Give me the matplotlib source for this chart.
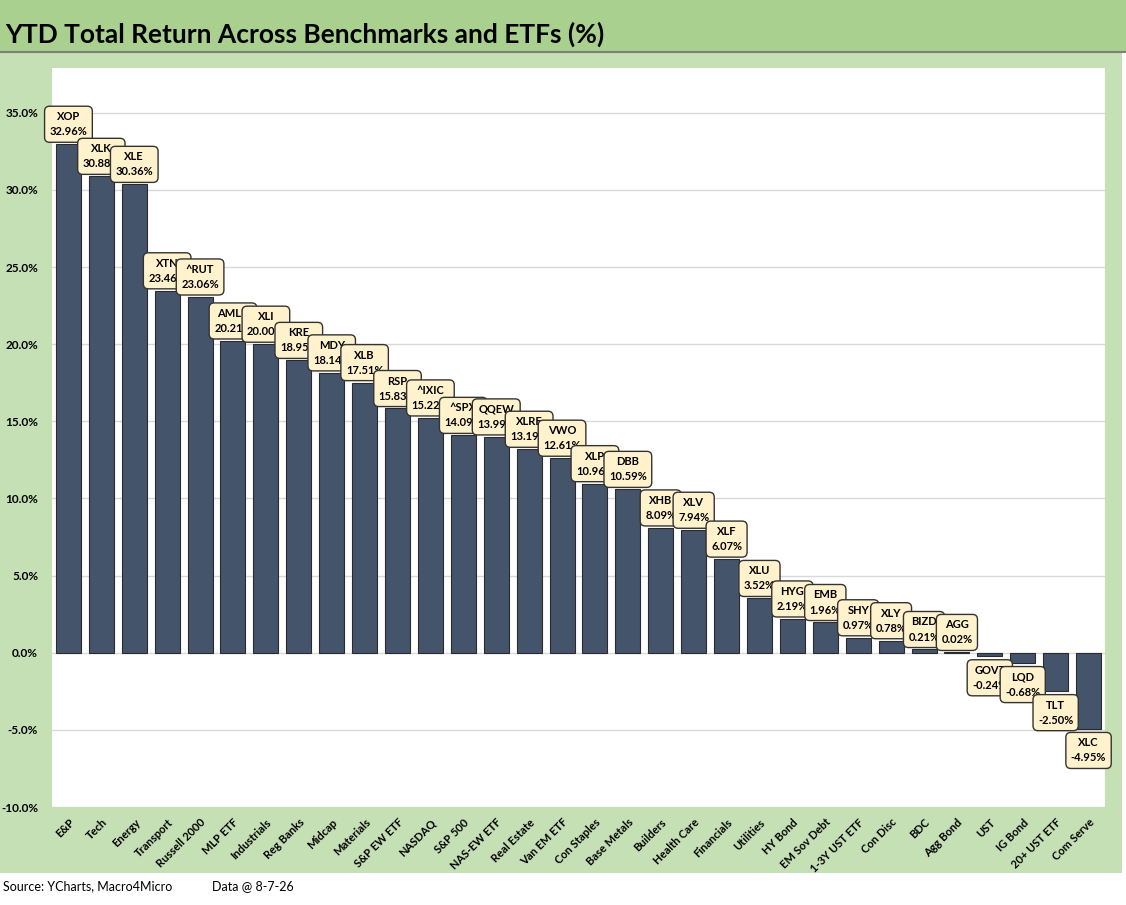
import matplotlib
matplotlib.use("Agg")
import matplotlib.pyplot as plt
from matplotlib.patches import Rectangle
from matplotlib.ticker import FuncFormatter

plt.rcParams['font.family'] = ['Lato', 'DejaVu Sans']

# categories, tickers and YTD total returns (%)
categories = ['E&P', 'Tech', 'Energy', 'Transport', 'Russell 2000', 'MLP ETF', 'Industrials',
              'Reg Banks', 'Midcap', 'Materials', 'S&P EW ETF', 'NASDAQ', 'S&P 500', 'NAS-EW ETF',
              'Real Estate', 'Van EM ETF', 'Con Staples', 'Base Metals', 'Builders', 'Health Care',
              'Financials', 'Utilities', 'HY Bond', 'EM Sov Debt', '1-3Y UST ETF', 'Con Disc', 'BDC',
              'Agg Bond', 'UST', 'IG Bond', '20+ UST ETF', 'Com Serve']
tickers = ['XOP', 'XLK', 'XLE', 'XTN', '^RUT', 'AMLP', 'XLI', 'KRE', 'MDY', 'XLB', 'RSP', '^IXIC',
           '^SPX', 'QQEW', 'XLRE', 'VWO', 'XLP', 'DBB', 'XHB', 'XLV', 'XLF', 'XLU', 'HYG', 'EMB',
           'SHY', 'XLY', 'BIZD', 'AGG', 'GOVT', 'LQD', 'TLT', 'XLC']
returns = [32.96, 30.88, 30.36, 23.46, 23.06, 20.21, 20.00, 18.95, 18.14, 17.51, 15.83, 15.22,
           14.09, 13.99, 13.19, 12.61, 10.96, 10.59, 8.09, 7.94, 6.07, 3.52, 2.19, 1.96,
           0.97, 0.78, 0.21, 0.02, -0.24, -0.68, -2.50, -4.95]

W, H = 1126, 905
fig = plt.figure(figsize=(W / 100, H / 100), dpi=100)
fig.patch.set_facecolor('white')

# title band and green chart frame (behind the axes)
fig.patches.append(Rectangle((0, 1 - 52 / H), 1, 52 / H, transform=fig.transFigure,
                             facecolor='#A9D08E', edgecolor='none', zorder=-10))
fig.patches.append(Rectangle((0, 1 - 873 / H), 1122 / W, 820 / H, transform=fig.transFigure,
                             facecolor='#C5E0B4', edgecolor='none', zorder=-10))
fig.add_artist(plt.Line2D([0, 1], [1 - 52.5 / H] * 2, transform=fig.transFigure,
                          color='#7f7f7f', lw=1.5, zorder=-5))

fig.text(5 / W, 1 - 34 / H, 'YTD Total Return Across Benchmarks and ETFs (%)',
         fontsize=19, fontweight='bold', va='center', ha='left')
fig.text(3 / W, 1 - 886 / H, 'Source: YCharts, Macro4Micro', fontsize=9, va='center')
fig.text(212 / W, 1 - 886 / H, 'Data @ 8-7-26', fontsize=9, va='center')

ax = fig.add_axes([52 / W, 1 - 807 / H, 1053 / W, 739 / H])
ax.set_facecolor('white')
x = range(len(categories))
ax.bar(x, returns, width=0.76, color='#44546A', edgecolor='#2b2b2b', linewidth=0.8, zorder=2)

ax.set_xlim(-0.5, len(categories) - 0.5)
ax.set_ylim(-10, 37.9)
ax.set_yticks(range(-10, 40, 5))
ax.yaxis.set_major_formatter(FuncFormatter(lambda v, p: f'{v:.1f}%'))
ax.grid(axis='y', color='#d9d9d9', lw=1, zorder=0)
ax.set_axisbelow(True)
for s in ax.spines.values():
    s.set_visible(False)
ax.tick_params(length=0)
ax.tick_params(axis='y', pad=10, labelsize=8.5)
for t in ax.get_yticklabels():
    t.set_fontweight('bold')
ax.set_xticks(list(x))
ax.set_xticklabels(categories, rotation=45, ha='right', rotation_mode='anchor',
                   fontsize=8, fontweight='bold')
ax.tick_params(axis='x', pad=7)

# data label boxes, later ones drawn on top of earlier ones
for i, (tk, v) in enumerate(zip(tickers, returns)):
    up = v >= 0
    ax.annotate(f'{tk}\n{v:.2f}%', xy=(i, v), xytext=(0, 5 if up else -6),
                textcoords='offset points', ha='center', va='bottom' if up else 'top',
                fontsize=8, fontweight='bold', linespacing=1.45, zorder=10 + i,
                bbox=dict(boxstyle='round,pad=0.45,rounding_size=0.45', facecolor='#FFF2CC',
                          edgecolor='#333333', lw=1))

fig.savefig('out.png', dpi=100)
